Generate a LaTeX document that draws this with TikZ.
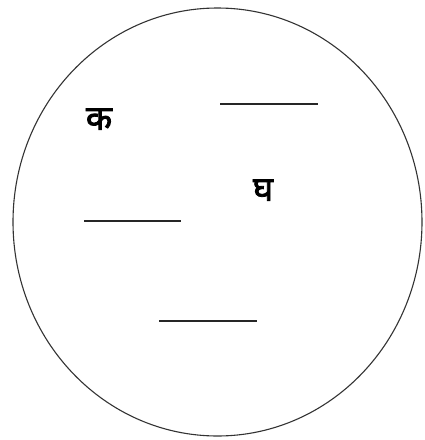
\documentclass[tikz,border=0pt]{standalone}
\usepackage{fontspec}
\newfontfamily\devfont[Script=Devanagari, FakeBold=2.5]{Noto Sans}
\begin{document}
\begin{tikzpicture}[x=1pt, y=-1pt,
  blank/.style={line width=1.8pt, color=black!85},
  letter/.style={font=\devfont\fontsize{34}{34}\selectfont, inner sep=0pt},
]
  \useasboundingbox (0,0) rectangle (424,440);
  \draw[line width=1.1pt, color=black!80] (217.5,222) ellipse [x radius=204.5, y radius=214];

  \node[letter] (ka)  at (99,119) {क};
  \node[letter] (gha) at (263,190) {घ};

  % blanks to fill in
  \coordinate (b1l) at (220,104); \coordinate (b1r) at (318,104);
  \coordinate (b2l) at (84,221);  \coordinate (b2r) at (181,221);
  \coordinate (b3l) at (159,321); \coordinate (b3r) at (257,321);
  \draw[blank] (b1l) -- (b1r);
  \draw[blank] (b2l) -- (b2r);
  \draw[blank] (b3l) -- (b3r);
\end{tikzpicture}
\end{document}
